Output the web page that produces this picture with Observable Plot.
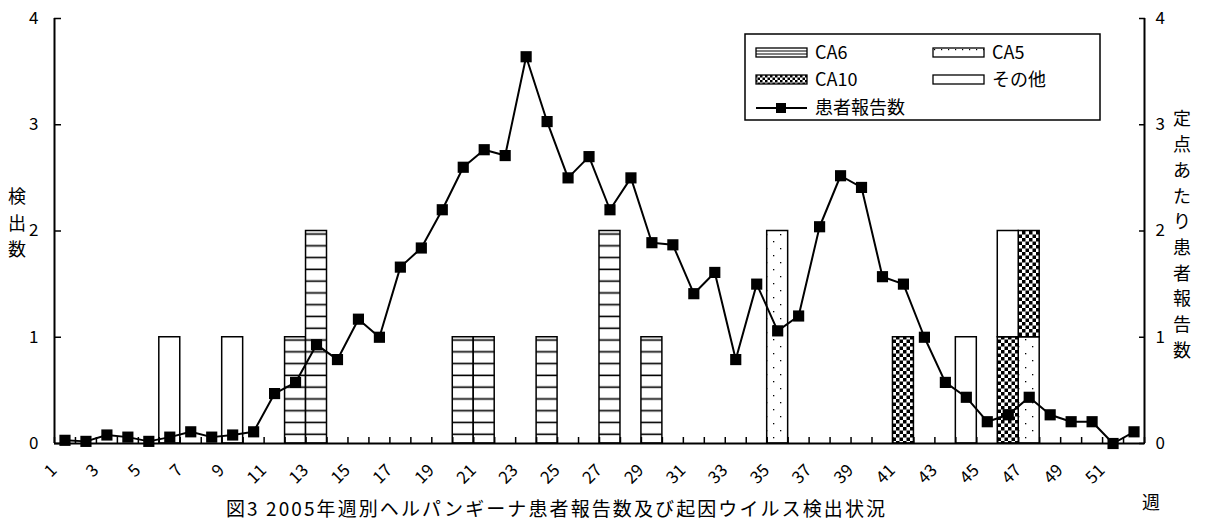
<!DOCTYPE html>
<html><head><meta charset="utf-8">
<script src="https://cdn.jsdelivr.net/npm/d3@7"></script>
<script src="https://cdn.jsdelivr.net/npm/@observablehq/plot@0.6"></script>
<style>
body{margin:0;background:#fff;}
#chart{width:1205px;height:520px;}
</style>
</head><body><div id="chart"></div>
<script>
const FONT = '"Noto Sans CJK JP", "Noto Sans", sans-serif';

// ---- data ----
const weeks = d3.range(1, 53);
const xTickLabels = d3.range(1, 52, 2);
const yTicks = [0, 1, 2, 3, 4];
const patients = [0.03,0.02,0.08,0.06,0.02,0.06,0.11,0.06,0.08,0.11,0.47,0.575,0.93,0.79,1.17,1.0,1.66,1.84,2.2,2.6,2.765,2.71,3.64,3.03,2.5,2.7,2.2,2.5,1.89,1.87,1.41,1.61,0.79,1.5,1.06,1.2,2.04,2.52,2.41,1.57,1.5,1.0,0.575,0.435,0.205,0.27,0.435,0.27,0.205,0.205,0.0,0.11];
const seriesKeys = ["ca6", "ca5", "ca10", "other"];
const seriesNames = ["CA6", "CA5", "CA10", "その他"];
const lineName = "患者報告数";
const ca6Weeks = [12, 13, 20, 21, 24, 27, 29];
const ca6Counts = [1, 2, 1, 1, 1, 2, 1];
const ca5Weeks = [35, 47];
const ca5Counts = [2, 1];
const ca10Weeks = [41, 46, 47];
const ca10Counts = [1, 1, 1];
const otherWeeks = [6, 9, 44, 46];
const otherCounts = [1, 1, 1, 1];
const leftTitle = "検出数";
const rightTitle = "定点あたり患者報告数";
const xTitle = "週";
const caption = "図3 2005年週別ヘルパンギーナ患者報告数及び起因ウイルス検出状況";

// ---- derived ----
const seriesData = {
  ca6: [ca6Weeks, ca6Counts], ca5: [ca5Weeks, ca5Counts],
  ca10: [ca10Weeks, ca10Counts], other: [otherWeeks, otherCounts]
};
const base = new Map();
const bars = [];
for (const k of seriesKeys) {
  const [ws, cs] = seriesData[k];
  ws.forEach((w, i) => {
    const y1 = base.get(w) || 0, y2 = y1 + cs[i];
    base.set(w, y2);
    bars.push({key: k, week: w, y1, y2});
  });
}
const lineData = weeks.map((w, i) => ({week: w, v: patients[i]}));
const boundaries = d3.range(0.5, 53, 1);
const fills = {ca6: "url(#pCA6)", ca5: "url(#pCA5)", ca10: "url(#pCA10)", other: "white"};

const barMarks = seriesKeys.map(k => Plot.rect(bars.filter(d => d.key === k), {
  x1: d => d.week - 0.5, x2: d => d.week + 0.5, y1: "y1", y2: "y2",
  fill: fills[k], stroke: "black", strokeWidth: 1.5
}));

const svg = Plot.plot({
  width: 1205, height: 520,
  marginLeft: 54, marginRight: 61, marginTop: 18, marginBottom: 77,
  x: {domain: [0.5, 52.5]},
  y: {domain: [0, 4]},
  style: {fontFamily: FONT, fontSize: "17px", background: "white", color: "black", overflow: "visible"},
  marks: [
    ...barMarks,
    Plot.line(lineData, {x: "week", y: "v", stroke: "black", strokeWidth: 2}),
    Plot.dot(lineData, {x: "week", y: "v", symbol: "square", r: 6.3, fill: "black"}),
    Plot.ruleX([0.5, 52.5], {stroke: "black", strokeWidth: 2}),
    Plot.ruleY([0], {stroke: "black", strokeWidth: 2}),
    Plot.axisY(yTicks, {anchor: "left", tickSize: -7, tickPadding: 23, label: null, tickFormat: d3.format("d"), strokeWidth: 1.5, fontSize: 17}),
    Plot.axisY(yTicks, {anchor: "right", tickSize: -6, tickPadding: 17, label: null, tickFormat: d3.format("d"), strokeWidth: 1.5, fontSize: 17}),
    Plot.axisX(boundaries, {anchor: "bottom", tickSize: -6, tickFormat: () => "", label: null, strokeWidth: 1.5}),
    Plot.axisX(xTickLabels, {anchor: "bottom", tickSize: 0, tickRotate: -45, tickPadding: 24, dx: -11, label: null, tickFormat: d3.format("d"), fontSize: 17})
  ]
});
document.getElementById("chart").appendChild(svg);

// ---- patterns ----
const s = d3.select(svg);
const defs = s.insert("defs", ":first-child");
const p1 = defs.append("pattern").attr("id", "pCA6").attr("patternUnits", "userSpaceOnUse")
  .attr("width", 30).attr("height", 11.78);
p1.append("rect").attr("width", 30).attr("height", 11.78).attr("fill", "white");
p1.append("rect").attr("y", 9.4).attr("width", 30).attr("height", 1.6).attr("fill", "black");
const p2 = defs.append("pattern").attr("id", "pCA5").attr("patternUnits", "userSpaceOnUse")
  .attr("width", 14).attr("height", 14);
p2.append("rect").attr("width", 14).attr("height", 14).attr("fill", "white");
p2.append("rect").attr("x", 3).attr("y", 3).attr("width", 1.3).attr("height", 1.3).attr("fill", "black");
p2.append("rect").attr("x", 10).attr("y", 10).attr("width", 1.3).attr("height", 1.3).attr("fill", "black");
const p3 = defs.append("pattern").attr("id", "pCA10").attr("patternUnits", "userSpaceOnUse")
  .attr("width", 7).attr("height", 7);
p3.append("rect").attr("width", 7).attr("height", 7).attr("fill", "white");
p3.append("rect").attr("width", 3.5).attr("height", 3.5).attr("fill", "black");
p3.append("rect").attr("x", 3.5).attr("y", 3.5).attr("width", 3.5).attr("height", 3.5).attr("fill", "black");
const lp3 = defs.append("pattern").attr("id", "lCA10").attr("patternUnits", "userSpaceOnUse")
  .attr("width", 5).attr("height", 5);
lp3.append("rect").attr("width", 5).attr("height", 5).attr("fill", "white");
lp3.append("rect").attr("width", 2.5).attr("height", 2.5).attr("fill", "black");
lp3.append("rect").attr("x", 2.5).attr("y", 2.5).attr("width", 2.5).attr("height", 2.5).attr("fill", "black");
const lp2 = defs.append("pattern").attr("id", "lCA5").attr("patternUnits", "userSpaceOnUse")
  .attr("width", 7).attr("height", 9);
lp2.append("rect").attr("width", 7).attr("height", 9).attr("fill", "white");
lp2.append("rect").attr("x", 3).attr("y", 4).attr("width", 1.2).attr("height", 1.2).attr("fill", "black");

s.selectAll('g[aria-label="rect"]').each(function(_, i) {
  if (i < seriesKeys.length) d3.select(this).attr("fill", fills[seriesKeys[i]]);
});

// ---- legend ----
const lg = s.append("g").attr("font-family", FONT).attr("font-size", 18).attr("text-anchor", "start");
lg.append("rect").attr("x", 745).attr("y", 34).attr("width", 355).attr("height", 86)
  .attr("fill", "white").attr("stroke", "black").attr("stroke-width", 1.5);
const legPos = {ca6: [756, 48], ca5: [933, 48], ca10: [756, 75], other: [933, 75]};
const legFill = {ca6: "white", ca5: "url(#lCA5)", ca10: "url(#lCA10)", other: "white"};
seriesKeys.forEach((k, i) => {
  const [x, y] = legPos[k];
  lg.append("rect").attr("x", x).attr("y", y).attr("width", 51).attr("height", 9)
    .attr("fill", legFill[k]).attr("stroke", "black").attr("stroke-width", 1.3);
  if (k === "ca6") {
    [51, 54].forEach(yy => lg.append("line").attr("x1", x).attr("x2", x + 51).attr("y1", yy).attr("y2", yy)
      .attr("stroke", "black").attr("stroke-width", 1));
  }
  lg.append("text").attr("x", x + 59).attr("y", y + 4.5).attr("dy", "0.36em").text(seriesNames[i]);
});
lg.append("line").attr("x1", 756).attr("x2", 807).attr("y1", 108).attr("y2", 108).attr("stroke", "black").attr("stroke-width", 2);
lg.append("rect").attr("x", 776).attr("y", 103).attr("width", 10).attr("height", 10).attr("fill", "black");
lg.append("text").attr("x", 815).attr("y", 108).attr("dy", "0.36em").text(lineName);

// ---- titles ----
const tg = s.append("g").attr("font-family", FONT).attr("font-size", 18).attr("text-anchor", "middle");
Array.from(leftTitle).forEach((c, i) => tg.append("text").attr("x", 17).attr("y", 197 + i * 26.5).attr("dy", "0.36em").text(c));
Array.from(rightTitle).forEach((c, i) => tg.append("text").attr("x", 1182).attr("y", 119 + i * 25.7).attr("dy", "0.36em").text(c));
tg.append("text").attr("x", 1151).attr("y", 503).attr("dy", "0.36em").text(xTitle);
tg.append("text").attr("x", 226).attr("y", 509).attr("dy", "0.36em").attr("text-anchor", "start")
  .attr("font-size", 19).attr("textLength", 659).attr("lengthAdjust", "spacing").text(caption);
</script>
</body></html>
